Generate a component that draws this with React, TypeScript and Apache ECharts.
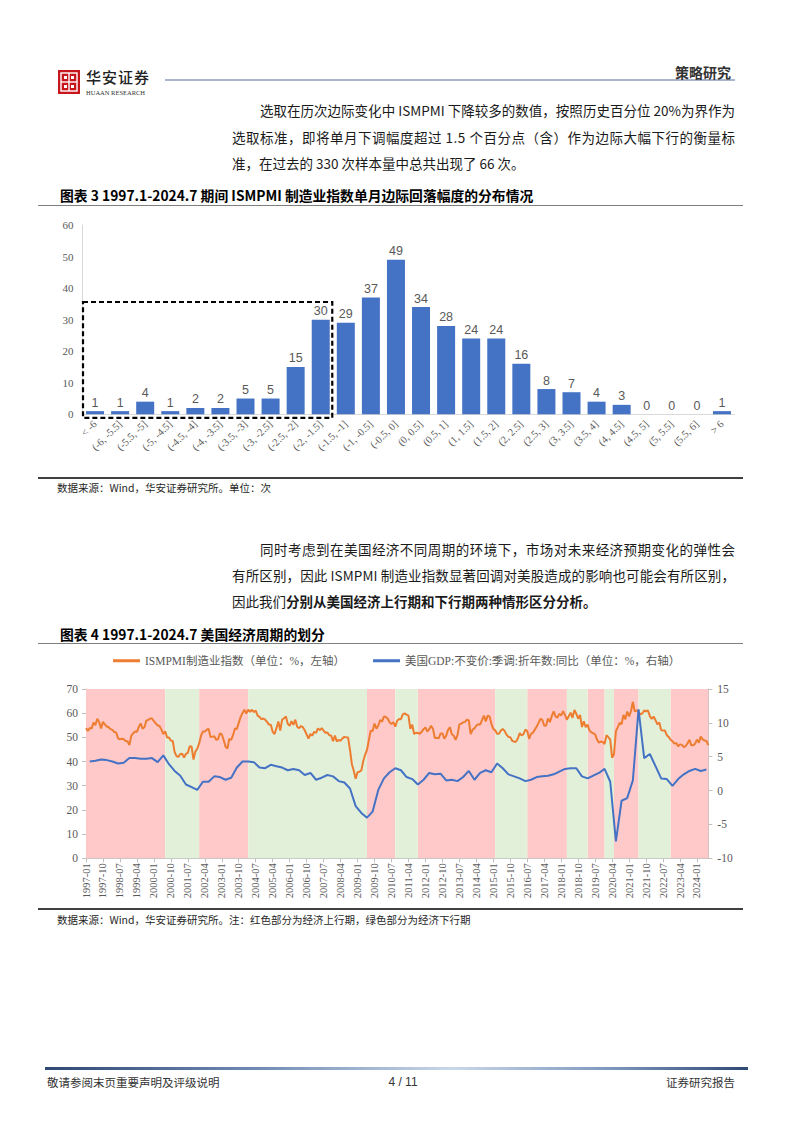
import React, { useEffect, useLayoutEffect, useRef } from "react";
import * as echarts from "echarts";

// ---------------- Data: Figure 3 (histogram) ----------------
const binLabels = [
  "< -6", "(-6, -5.5]", "(-5.5, -5]", "(-5, -4.5]", "(-4.5, -4]", "(-4, -3.5]",
  "(-3.5, -3]", "(-3, -2.5]", "(-2.5, -2]", "(-2, -1.5]", "(-1.5, -1]", "(-1, -0.5]",
  "(-0.5, 0]", "(0, 0.5]", "(0.5, 1]", "(1, 1.5]", "(1.5, 2]", "(2, 2.5]",
  "(2.5, 3]", "(3, 3.5]", "(3.5, 4]", "(4, 4.5]", "(4.5, 5]", "(5, 5.5]", "(5.5, 6]", "> 6",
];
const binCounts = [1, 1, 4, 1, 2, 2, 5, 5, 15, 30, 29, 37, 49, 34, 28, 24, 24, 16, 8, 7, 4, 3, 0, 0, 0, 1];
const histYTicks = { min: 0, max: 60, interval: 10 };
const highlightLastBin = 9; // dashed box covers bins 0..9
const highlightTop = 35.6;

// ---------------- Data: Figure 4 (cycles) ----------------
const startYear = 1997;
const endYear = 2024;
const endMonth = 7;
const pmiValues = [
  // 1997
  53.8, 52.7, 53.9, 53.7, 56.1, 55.1, 57.7, 56.3, 53.7, 56.4, 55.4, 54.5,
  // 1998
  54.2, 53.4, 53.1, 52.2, 52.0, 49.6, 49.2, 49.4, 49.2, 48.5, 48.4, 46.8,
  // 1999
  50.6, 51.7, 52.4, 52.3, 54.3, 55.8, 53.6, 54.2, 57.0, 57.2, 57.8, 57.8,
  // 2000
  56.7, 55.8, 54.9, 54.7, 53.2, 51.4, 52.5, 49.9, 49.9, 48.7, 48.5, 43.9,
  // 2001
  42.3, 41.9, 43.1, 43.2, 41.7, 43.2, 43.6, 46.3, 46.2, 40.8, 44.1, 45.3,
  // 2002
  47.5, 50.7, 52.4, 52.4, 53.1, 53.6, 50.2, 50.3, 50.5, 49.0, 49.2, 51.6,
  // 2003
  51.3, 48.9, 46.1, 45.4, 49.4, 49.0, 51.0, 53.7, 53.5, 56.0, 58.4, 60.1,
  // 2004
  61.4, 59.9, 61.4, 60.6, 61.4, 60.5, 61.1, 59.0, 58.5, 57.5, 57.8, 57.3,
  // 2005
  56.4, 55.3, 55.2, 52.3, 51.4, 53.8, 56.6, 52.8, 57.3, 57.9, 58.6, 55.6,
  // 2006
  54.8, 56.7, 55.2, 57.3, 54.4, 53.8, 54.7, 54.2, 52.9, 51.2, 49.5, 51.4,
  // 2007
  50.7, 52.3, 51.9, 53.7, 53.0, 53.8, 52.8, 51.9, 52.0, 50.9, 50.8, 48.4,
  // 2008
  50.7, 48.3, 49.0, 48.6, 49.6, 50.2, 50.0, 49.9, 44.8, 38.9, 36.2, 32.9,
  // 2009
  35.6, 35.8, 36.3, 40.1, 42.8, 44.8, 48.9, 52.8, 52.6, 55.7, 53.6, 54.9,
  // 2010
  57.2, 56.5, 58.6, 58.4, 57.7, 56.2, 55.5, 56.3, 54.4, 56.9, 57.6, 57.5,
  // 2011
  59.5, 59.9, 59.4, 59.0, 53.5, 55.3, 51.4, 51.9, 51.8, 51.5, 52.3, 53.4,
  // 2012
  54.1, 52.4, 53.4, 54.8, 53.5, 49.7, 49.8, 49.6, 51.5, 51.7, 49.5, 50.7,
  // 2013
  53.1, 54.2, 51.3, 50.7, 49.0, 50.9, 55.4, 55.7, 56.2, 56.4, 57.3, 57.0,
  // 2014
  51.3, 53.2, 53.7, 54.9, 55.4, 55.3, 57.1, 59.0, 56.6, 59.0, 58.7, 55.5,
  // 2015
  53.5, 52.9, 51.5, 51.5, 52.8, 53.5, 52.7, 51.1, 50.2, 50.1, 48.6, 48.2,
  // 2016
  48.2, 49.5, 51.8, 50.8, 51.3, 53.2, 52.6, 49.4, 51.5, 51.9, 53.2, 54.5,
  // 2017
  56.0, 57.7, 57.2, 54.8, 54.9, 57.8, 56.3, 58.8, 60.8, 58.7, 58.2, 59.7,
  // 2018
  59.1, 60.8, 59.3, 57.3, 58.7, 60.2, 58.1, 61.3, 59.8, 57.7, 59.3, 54.3,
  // 2019
  56.6, 54.2, 55.3, 52.8, 52.1, 51.7, 51.2, 49.1, 47.8, 48.3, 48.1, 47.2,
  // 2020
  50.9, 50.1, 49.1, 41.5, 43.1, 52.6, 54.2, 56.0, 55.4, 59.3, 57.5, 60.7,
  // 2021
  58.7, 60.8, 64.7, 60.7, 61.2, 60.6, 59.5, 59.9, 61.1, 60.8, 61.1, 58.8,
  // 2022
  57.6, 58.6, 57.1, 55.4, 56.1, 53.0, 52.8, 52.8, 50.9, 50.2, 49.0, 48.4,
  // 2023
  47.4, 47.7, 46.3, 47.1, 46.9, 46.0, 46.4, 47.6, 49.0, 46.7, 46.7, 47.4,
  // 2024
  49.1, 47.8, 50.3, 49.2, 48.7, 48.5, 46.8,
];
// Quarterly real GDP YoY (%), 1997Q1 .. 2024Q2, plotted at quarter-end months
const gdpQuarterlyYoY = [
  4.3, 4.4, 4.6, 4.5, // 1997
  4.3, 4.0, 4.1, 4.8, // 1998
  4.8, 4.7, 4.7, 4.8, // 1999
  4.2, 5.2, 3.9, 2.9, // 2000
  2.2, 0.9, 0.5, 0.1, // 2001
  1.3, 1.3, 2.1, 2.0, // 2002
  1.6, 1.9, 3.4, 4.3, // 2003
  4.3, 4.2, 3.4, 3.3, // 2004
  3.8, 3.6, 3.4, 3.0, // 2005
  3.2, 3.0, 2.3, 2.6, // 2006
  1.6, 1.9, 2.3, 2.1, // 2007
  1.4, 1.2, 0.3, -2.3, // 2008
  -3.3, -4.0, -3.1, 0.1, // 2009
  1.8, 2.7, 3.3, 3.0, // 2010
  2.0, 1.7, 0.9, 1.6, // 2011
  2.6, 2.4, 2.5, 1.5, // 2012
  1.6, 1.4, 2.0, 2.9, // 2013
  1.6, 2.6, 3.0, 2.7, // 2014
  4.0, 3.3, 2.4, 2.1, // 2015
  1.8, 1.4, 1.6, 2.0, // 2016
  2.1, 2.2, 2.4, 2.8, // 2017
  3.2, 3.3, 3.3, 2.1, // 2018
  1.8, 2.2, 2.6, 3.2, // 2019
  1.3, -7.5, -1.5, -1.1, // 2020
  1.5, 12.0, 4.8, 5.4, // 2021
  3.6, 1.8, 1.7, 0.7, // 2022
  1.7, 2.4, 2.9, 3.2, // 2023
  2.9, 3.1, // 2024
];
// Economic upswing (red) and downswing (green) periods
const upswingPeriods: [string, string][] = [
  ["1997-01", "2000-07"], ["2002-01", "2004-03"], ["2009-06", "2010-09"],
  ["2011-09", "2015-02"], ["2016-07", "2018-04"], ["2019-03", "2019-12"],
  ["2020-05", "2021-06"], ["2022-11", "2024-07"],
];
const downswingPeriods: [string, string][] = [
  ["2000-07", "2002-01"], ["2004-03", "2009-06"], ["2010-09", "2011-09"],
  ["2015-02", "2016-07"], ["2018-04", "2019-03"], ["2019-12", "2020-05"],
  ["2021-06", "2022-11"],
];
const pmiName = "ISMPMI制造业指数（单位：%，左轴）";
const gdpName = "美国GDP:不变价:季调:折年数:同比（单位：%，右轴）";
const leftAxisTicks = { min: 0, max: 70, interval: 10 };
const rightAxisTicks = { min: -10, max: 15, interval: 5 };

// ---------------- Styling constants ----------------
const SERIF = '"Liberation Serif", "Times New Roman", "Noto Sans CJK SC", serif';
const BODY = '"Noto Sans CJK SC", sans-serif';
const CJK = '"Noto Sans CJK SC", sans-serif';
const RED_BG = "#FFC9C9";
const GREEN_BG = "#E2F0D9";
const ORANGE = "#ED7D31";
const BLUE = "#4472C4";

const months: string[] = [];
for (let y = startYear; y <= endYear; y++) {
  for (let m = 1; m <= 12; m++) {
    if (y === endYear && m > endMonth) break;
    months.push(`${y}-${m < 10 ? "0" + m : m}`);
  }
}
const gdpMonthly = months.map((_, i) =>
  i % 3 === 2 && (i - 2) / 3 < gdpQuarterlyYoY.length ? gdpQuarterlyYoY[(i - 2) / 3] : null
);

function HistChart() {
  const ref = useRef<HTMLDivElement>(null);
  useEffect(() => {
    if (!ref.current) return;
    const chart = echarts.init(ref.current, null, { renderer: "svg" });
    chart.setOption({
      animation: false,
      grid: { left: 42.5, right: 5.5, top: 15, bottom: 63.7 },
      xAxis: {
        type: "category",
        data: binLabels,
        axisLine: { lineStyle: { color: "#D9D9D9", width: 1 } },
        axisTick: { show: false },
        axisLabel: {
          interval: 0, rotate: 45, margin: 8,
          fontFamily: SERIF, fontSize: 10.5, color: "#595959",
        },
      },
      yAxis: {
        type: "value",
        min: histYTicks.min, max: histYTicks.max, interval: histYTicks.interval,
        axisLine: { show: true, lineStyle: { color: "#D9D9D9" } },
        axisTick: { show: false },
        splitLine: { show: false },
        axisLabel: { fontFamily: SERIF, fontSize: 11, color: "#595959", margin: 9 },
      },
      series: [
        {
          type: "bar",
          data: binCounts,
          barWidth: 18,
          itemStyle: { color: BLUE },
          label: {
            show: true, position: "top", distance: 2,
            fontFamily: '"Liberation Sans", Arial, sans-serif', fontSize: 12.5, color: "#595959",
          },
        },
      ],
    });
    const x0 = chart.convertToPixel({ xAxisIndex: 0 }, 0) as number;
    const x1 = chart.convertToPixel({ xAxisIndex: 0 }, 1) as number;
    const xL = chart.convertToPixel({ xAxisIndex: 0 }, highlightLastBin) as number;
    const band = x1 - x0;
    const yTop = chart.convertToPixel({ yAxisIndex: 0 }, highlightTop) as number;
    const yZero = chart.convertToPixel({ yAxisIndex: 0 }, 0) as number;
    const left = x0 - band / 2 + 0.5;
    const right = xL + band / 2 - 1;
    chart.setOption({
      graphic: [
        {
          type: "rect", z: 10,
          shape: { x: left, y: yTop, width: right - left, height: yZero + 3.5 - yTop },
          style: { fill: "none", stroke: "#000", lineWidth: 2.2, lineDash: [5, 3] },
        },
      ],
    });
    return () => chart.dispose();
  }, []);
  return <div ref={ref} style={{ width: 700, height: 268 }} />;
}

function CycleChart() {
  const ref = useRef<HTMLDivElement>(null);
  useEffect(() => {
    if (!ref.current) return;
    const chart = echarts.init(ref.current, null, { renderer: "svg" });
    const areas = [
      ...upswingPeriods.map(([a, b]) => [{ xAxis: a, itemStyle: { color: RED_BG } }, { xAxis: b }]),
      ...downswingPeriods.map(([a, b]) => [{ xAxis: a, itemStyle: { color: GREEN_BG } }, { xAxis: b }]),
    ];
    const axisLbl = { fontFamily: SERIF, fontSize: 11.5, color: "#595959" };
    chart.setOption({
      animation: false,
      legend: {
        data: [pmiName, gdpName],
        top: 7, left: 73, padding: 0,
        itemGap: 28, itemWidth: 27, itemHeight: 3, icon: "rect",
        textStyle: { fontFamily: SERIF, fontSize: 11.5, color: "#595959" },
      },
      grid: { left: 46, right: 31.7, top: 41, bottom: 51.7 },
      xAxis: {
        type: "category",
        data: months,
        boundaryGap: false,
        axisLine: { lineStyle: { color: "#BFBFBF" } },
        axisTick: { interval: 8, length: 4, lineStyle: { color: "#BFBFBF" } },
        axisLabel: {
          interval: 8, rotate: 90, margin: 5,
          fontFamily: SERIF, fontSize: 10.5, color: "#595959",
        },
      },
      yAxis: [
        {
          type: "value", position: "left",
          min: leftAxisTicks.min, max: leftAxisTicks.max, interval: leftAxisTicks.interval,
          axisLine: { show: true, lineStyle: { color: "#BFBFBF" } },
          axisTick: { show: true, length: 4, lineStyle: { color: "#BFBFBF" } },
          splitLine: { show: false },
          axisLabel: { ...axisLbl, margin: 8 },
        },
        {
          type: "value", position: "right",
          min: rightAxisTicks.min, max: rightAxisTicks.max, interval: rightAxisTicks.interval,
          axisLine: { show: true, lineStyle: { color: "#BFBFBF" } },
          axisTick: { show: true, length: 4, lineStyle: { color: "#BFBFBF" } },
          splitLine: { show: false },
          axisLabel: { ...axisLbl, margin: 9 },
        },
      ],
      series: [
        {
          name: pmiName, type: "line", data: pmiValues, yAxisIndex: 0,
          symbol: "none", z: 3,
          lineStyle: { color: ORANGE, width: 2 }, itemStyle: { color: ORANGE },
          markArea: { silent: true, data: areas },
        },
        {
          name: gdpName, type: "line", data: gdpMonthly, yAxisIndex: 1,
          symbol: "none", connectNulls: true, z: 4,
          lineStyle: { color: BLUE, width: 2 }, itemStyle: { color: BLUE },
        },
      ],
    });
    return () => chart.dispose();
  }, []);
  return <div ref={ref} style={{ width: 700, height: 262 }} />;
}

const abs = (left: number, top: number, extra: React.CSSProperties = {}): React.CSSProperties => ({
  position: "absolute", left, top, ...extra,
});

const bodyText: React.CSSProperties = {
  fontFamily: BODY, fontSize: 13.5, lineHeight: "20px", color: "#1a1a1a", whiteSpace: "nowrap",
};
const titleText: React.CSSProperties = {
  fontFamily: BODY, fontSize: 13.8, lineHeight: "18px", fontWeight: 700, color: "#000", whiteSpace: "nowrap",
};
const srcText: React.CSSProperties = {
  fontFamily: BODY, fontSize: 10.5, lineHeight: "14px", color: "#262626", whiteSpace: "nowrap",
};

// A single text line stretched (by letter spacing) to an exact width
function JLine(props: { left: number; top: number; width: number; children: React.ReactNode }) {
  const ref = useRef<HTMLDivElement>(null);
  useLayoutEffect(() => {
    const el = ref.current;
    if (!el) return;
    el.style.letterSpacing = "0px";
    const w = el.getBoundingClientRect().width;
    const n = (el.textContent || "").length;
    const ls = (props.width - w) / Math.max(1, n - 1);
    el.style.letterSpacing = ls + "px";
  }, []);
  return (
    <div ref={ref} style={abs(props.left, props.top, { ...bodyText, display: "inline-block" })}>
      {props.children}
    </div>
  );
}

function Logo() {
  return (
    <svg width={22} height={24} viewBox="0 0 22 24">
      <rect x={0} y={0} width={22} height={24} fill="#C8161D" />
      <rect x={3} y={3} width={16} height={18} fill="none" stroke="#fff" strokeWidth={1.4} />
      <line x1={3} y1={12} x2={19} y2={12} stroke="#fff" strokeWidth={1.4} />
      <line x1={11} y1={3} x2={11} y2={21} stroke="#fff" strokeWidth={1.4} />
      <rect x={6} y={6} width={3} height={3} fill="#fff" />
      <rect x={13} y={6} width={3} height={3} fill="#fff" />
      <rect x={6} y={15} width={3} height={3} fill="#fff" />
      <rect x={13} y={15} width={3} height={3} fill="#fff" />
    </svg>
  );
}

export default function App() {
  return (
    <div style={{ position: "absolute", left: 0, top: 0, width: 802, height: 1133, background: "#fff", overflow: "hidden" }}>
      {/* Header */}
      <div style={abs(58, 70)}><Logo /></div>
      <div style={abs(86, 68, { fontFamily: CJK, fontSize: 15, lineHeight: "18px", fontWeight: 500, color: "#222", letterSpacing: 1, whiteSpace: "nowrap" })}>华安证券</div>
      <div style={abs(86, 89, { fontFamily: SERIF, fontSize: 6.5, lineHeight: "8px", color: "#333", whiteSpace: "nowrap" })}>HUAAN RESEARCH</div>
      <div style={abs(165, 79, { width: 570, height: 2, background: "#A9B6CC" })} />
      <div style={abs(631, 63, { width: 100, textAlign: "right", fontFamily: CJK, fontSize: 14, lineHeight: "18px", fontWeight: 700, color: "#333" })}>策略研究</div>

      {/* Paragraph 1 */}
      <JLine left={260} top={100} width={475}>选取在历次边际变化中 ISMPMI 下降较多的数值，按照历史百分位 20%为界作为</JLine>
      <JLine left={232} top={127} width={503}>选取标准，即将单月下调幅度超过 1.5 个百分点（含）作为边际大幅下行的衡量标</JLine>
      <div style={abs(232, 153, bodyText)}>准，在过去的 330 次样本量中总共出现了 66 次。</div>

      {/* Figure 3 */}
      <div style={abs(60, 186, titleText)}>图表 3 1997.1-2024.7 期间 ISMPMI 制造业指数单月边际回落幅度的分布情况</div>
      <div style={abs(38, 205, { width: 705, height: 1, background: "#7F7F7F" })} />
      <div style={abs(40, 210)}><HistChart /></div>
      <div style={abs(38, 477, { width: 705, height: 1.5, background: "#404040" })} />
      <div style={abs(57, 481, srcText)}>数据来源：Wind，华安证券研究所。单位：次</div>

      {/* Paragraph 2 */}
      <JLine left={260} top={539} width={475}>同时考虑到在美国经济不同周期的环境下，市场对未来经济预期变化的弹性会</JLine>
      <JLine left={232} top={565} width={503}>有所区别，因此 ISMPMI 制造业指数显著回调对美股造成的影响也可能会有所区别，</JLine>
      <div style={abs(232, 591, bodyText)}>因此我们<span style={{ fontWeight: 700 }}>分别从美国经济上行期和下行期两种情形区分分析。</span></div>

      {/* Figure 4 */}
      <div style={abs(60, 625, titleText)}>图表 4 1997.1-2024.7 美国经济周期的划分</div>
      <div style={abs(38, 643, { width: 705, height: 1, background: "#7F7F7F" })} />
      <div style={abs(40, 648)}><CycleChart /></div>
      <div style={abs(38, 908, { width: 705, height: 1.5, background: "#404040" })} />
      <div style={abs(57, 913, srcText)}>数据来源：Wind，华安证券研究所。注：红色部分为经济上行期，绿色部分为经济下行期</div>

      {/* Footer */}
      <div style={abs(45, 1067, { width: 703, height: 3, background: "linear-gradient(to right, #2E4A74 0%, #6F8BB3 30%, #C9D7E8 58%, #7F99BE 80%, #2E4A74 100%)" })} />
      <div style={abs(47, 1074, { fontFamily: CJK, fontSize: 11.5, lineHeight: "16px", color: "#333", whiteSpace: "nowrap" })}>敬请参阅末页重要声明及评级说明</div>
      <div style={abs(370, 1074, { width: 66, textAlign: "center", fontFamily: '"Liberation Sans", Arial, sans-serif', fontSize: 12, lineHeight: "16px", color: "#333" })}>4 / 11</div>
      <div style={abs(635, 1074, { width: 100, textAlign: "right", fontFamily: CJK, fontSize: 11.5, lineHeight: "16px", color: "#333" })}>证券研究报告</div>
    </div>
  );
}
